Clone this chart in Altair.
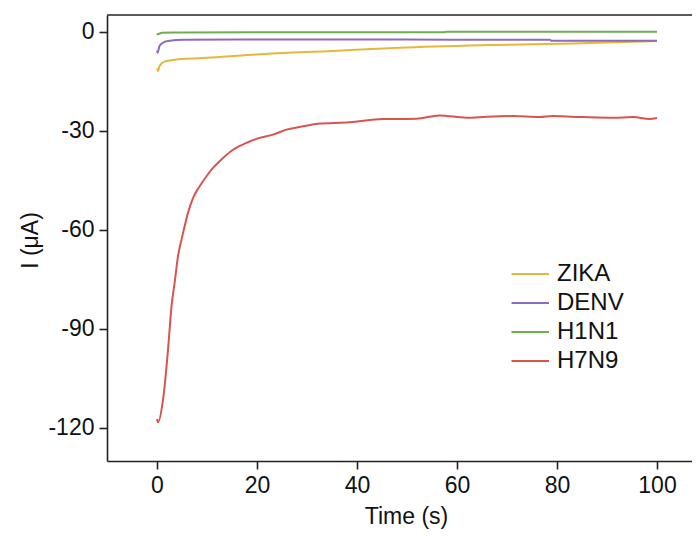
import altair as alt
import pandas as pd

series_names = ["ZIKA", "DENV", "H1N1", "H7N9"]
series_colors = ["#E5B83B", "#8C6BBF", "#6FAD4F", "#D9534F"]

zika_t = [0, 0.2, 0.5, 1.5, 4.2, 10.9, 21.5, 35.1, 48.5, 66.5, 83.2, 93.2, 100]
zika_i = [-11.2, -12.0, -10.4, -9.1, -8.4, -7.9, -6.8, -5.9, -4.9, -4.1, -3.6, -3.2, -2.9]

denv_t = [0, 0.1, 0.5, 1.2, 2.2, 5.5, 21.5, 50, 78.5, 79, 100]
denv_i = [-5.8, -6.4, -4.4, -3.4, -2.9, -2.5, -2.4, -2.45, -2.5, -2.8, -2.8]

h1n1_t = [0, 0.1, 1, 3, 20, 57, 58, 100]
h1n1_i = [-0.6, -0.8, -0.4, -0.3, -0.2, -0.2, -0.05, -0.05]

h7n9_t = [0.0, 0.2, 1.2, 2.2, 2.9, 3.6, 4.2, 4.9, 5.6, 6.2, 7.2, 8.5, 9.9, 11.2,
          13.2, 15.2, 17.9, 20.5, 23.2, 25.9, 28.5, 32.2, 38.5, 45.2, 51.9, 56.5,
          61.9, 66.0, 71.2, 76.5, 79.2, 85.2, 91.2, 95.2, 98.5, 100]
h7n9_i = [-117.3, -118.3, -111.5, -96.4, -83.2, -75.2, -68.0, -63.0, -58.5, -54.9,
          -50.4, -46.9, -43.8, -41.3, -38.3, -35.8, -33.7, -32.2, -31.2, -29.7,
          -28.9, -27.9, -27.5, -26.5, -26.4, -25.4, -26.1, -25.8, -25.6, -25.9,
          -25.6, -25.9, -26.1, -25.9, -26.5, -26.2]

x_domain = [-10, 107]
y_domain = [-130, 5]
x_ticks = [0, 20, 40, 60, 80, 100]
y_ticks = [-120, -90, -60, -30, 0]

rows = []
for name, ts, vs in [("ZIKA", zika_t, zika_i), ("DENV", denv_t, denv_i),
                     ("H1N1", h1n1_t, h1n1_i), ("H7N9", h7n9_t, h7n9_i)]:
    for t, v in zip(ts, vs):
        rows.append({"series": name, "t": t, "I": v})
df = pd.DataFrame(rows)

FONT = "Liberation Sans"
AXC = "#222222"

x_enc = alt.X("t:Q", scale=alt.Scale(domain=x_domain, nice=False, zero=False),
              axis=alt.Axis(values=x_ticks, title="Time (s)", grid=False,
                            labelExpr="toString(datum.value)",
                            titleX=299, titleY=55, titleAlign="center",
                            titleBaseline="middle"))
y_enc = alt.Y("I:Q", scale=alt.Scale(domain=y_domain, nice=False, zero=False),
              axis=alt.Axis(values=y_ticks, title="I (μA)", grid=False,
                            labelExpr="toString(datum.value)",
                            titleX=-77, titleY=225, titleAngle=270,
                            titleAlign="center", titleBaseline="middle"))

lines = alt.Chart(df).mark_line(strokeWidth=2, clip=True, interpolate="monotone").encode(
    x=x_enc,
    y=y_enc,
    color=alt.Color("series:N",
                    scale=alt.Scale(domain=series_names, range=series_colors),
                    sort=series_names,
                    legend=alt.Legend(title=None, orient="none",
                                      legendX=411, legendY=243,
                                      symbolType="M-1.5,0H1",
                                      symbolSize=900, symbolStrokeWidth=2,
                                      labelFontSize=24, labelFont=FONT,
                                      labelColor="#111111",
                                      labelOffset=7, rowPadding=1, padding=0)),
    detail="series:N",
)

top_border = alt.Chart(pd.DataFrame({"y": [y_domain[1]]})).mark_rule(
    color=AXC, strokeWidth=1.6).encode(y=alt.Y("y:Q"))

chart = alt.layer(lines, top_border).properties(
    width=585, height=446,
    autosize=alt.AutoSizeParams(type="none"),
    padding={"left": 99, "top": 7, "right": 0, "bottom": 68},
).configure_view(stroke=None).configure_axis(
    domainColor=AXC, domainWidth=1.6, tickColor=AXC, tickWidth=1.6, tickSize=8,
    labelFont=FONT, labelFontSize=23, labelColor="#111111", labelPadding=5,
    titleFont=FONT, titleFontSize=23, titleColor="#111111", titleFontWeight="normal",
)

chart.save("out.html", embed_options={"renderer": "svg", "actions": False})
